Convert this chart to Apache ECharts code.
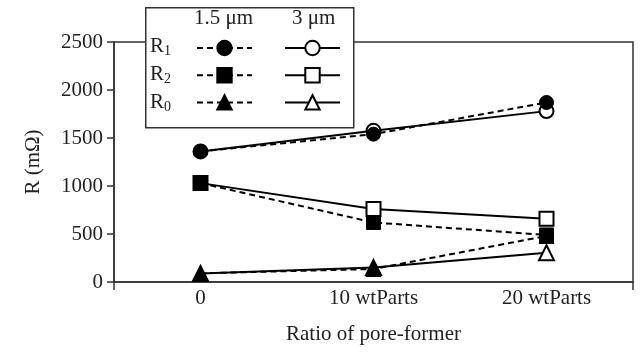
<!DOCTYPE html>
<html><head><meta charset="utf-8">
<script src="https://cdn.jsdelivr.net/npm/echarts@6/dist/echarts.min.js"></script>
<style>html,body{margin:0;padding:0;background:#fff}#c{width:640px;height:354px}</style>
</head><body><div id="c"></div>
<script>
const categories = ['0', '10 wtParts', '20 wtParts'];
const yTicks = [0, 500, 1000, 1500, 2000, 2500];
const r1_15 = [1360, 1540, 1870];
const r2_15 = [1030, 620, 490];
const r0_15 = [90, 135, 480];
const r1_3 = [1360, 1575, 1780];
const r2_3 = [1030, 760, 660];
const r0_3 = [88, 150, 305];

const FONT = 'Liberation Serif';
const chart = echarts.init(document.getElementById('c'), null, {renderer: 'canvas'});

function mk(name, data, symbol, filled, dashed) {
  return {
    name, type: 'line', data, symbol, symbolSize: symbol === 'triangle' ? 15 : 14,
    showSymbol: true,
    lineStyle: {color: '#000', width: 2, type: dashed ? [6, 4] : 'solid'},
    itemStyle: {color: filled ? '#000' : '#fff', borderColor: '#000', borderWidth: filled ? 1 : 2, opacity: 1},
    emphasis: {disabled: true}, animation: false, z: filled ? 3 : 2
  };
}

const series = [
  mk('R1_3', r1_3, 'circle', false, false),
  mk('R2_3', r2_3, 'rect', false, false),
  mk('R0_3', r0_3, 'triangle', false, false),
  mk('R1_15', r1_15, 'circle', true, true),
  mk('R2_15', r2_15, 'rect', true, true),
  mk('R0_15', r0_15, 'triangle', true, true)
];

const legendCommon = {
  orient: 'vertical', top: 39, itemWidth: 55, itemHeight: 18, itemGap: 10,
  formatter: () => '', selectedMode: false, z: 20, padding: 0,
  textStyle: {fontSize: 1}
};

const rich = {r: {fontFamily: FONT, fontSize: 21, fill: '#222'}, s: {fontFamily: FONT, fontSize: 14, fill: '#222', padding: [10, 0, 0, 0]}};

chart.setOption({
  animation: false,
  grid: {left: 114, right: 7, top: 42, bottom: 72, show: true, borderColor: '#333', borderWidth: 1.5, backgroundColor: 'transparent'},
  xAxis: {
    type: 'category', data: categories, boundaryGap: true,
    axisLine: {lineStyle: {color: '#333', width: 1.5}},
    axisTick: {inside: true, length: 6, lineStyle: {color: '#333', width: 1.5}},
    axisLabel: {fontFamily: FONT, fontSize: 21, color: '#222', margin: 6},
    name: 'Ratio of pore-former', nameLocation: 'middle', nameGap: 42,
    nameTextStyle: {fontFamily: FONT, fontSize: 21, color: '#222'}
  },
  yAxis: {
    type: 'value', min: 0, max: 2500, interval: 500,
    axisLine: {show: true, lineStyle: {color: '#333', width: 1.5}},
    axisTick: {show: true, length: 7, lineStyle: {color: '#333', width: 1.5}},
    splitLine: {show: false},
    axisLabel: {fontFamily: FONT, fontSize: 21, color: '#222', margin: 11,
      formatter: v => yTicks.includes(v) ? String(v) : ''},
    name: 'R (mΩ)', nameLocation: 'middle', nameGap: 70,
    nameTextStyle: {fontFamily: FONT, fontSize: 21, color: '#222'}
  },
  legend: [
    Object.assign({}, legendCommon, {left: 196, data: ['R1_15', 'R2_15', 'R0_15']}),
    Object.assign({}, legendCommon, {left: 284, data: ['R1_3', 'R2_3', 'R0_3']})
  ],
  graphic: [
    {type: 'rect', left: 145, top: 7, z: 10, shape: {width: 208, height: 120},
     style: {fill: '#fff', stroke: '#333', lineWidth: 1.5}},
    {type: 'text', left: 194, top: 8, z: 11, style: {text: '1.5 μm', font: '21px "Liberation Serif"', fill: '#222'}},
    {type: 'text', left: 292, top: 8, z: 11, style: {text: '3 μm', font: '21px "Liberation Serif"', fill: '#222'}},
    {type: 'text', left: 150, top: 36, z: 11, style: {text: '{r|R}{s|1}', rich}},
    {type: 'text', left: 150, top: 64, z: 11, style: {text: '{r|R}{s|2}', rich}},
    {type: 'text', left: 150, top: 92, z: 11, style: {text: '{r|R}{s|0}', rich}},
    {type: 'line', z: 5, shape: {x1: 114, y1: 282, x2: 114, y2: 290}, style: {stroke: '#333', lineWidth: 1.5}},
    {type: 'line', z: 5, shape: {x1: 633, y1: 282, x2: 633, y2: 290}, style: {stroke: '#333', lineWidth: 1.5}}
  ],
  series
});
</script></body></html>
